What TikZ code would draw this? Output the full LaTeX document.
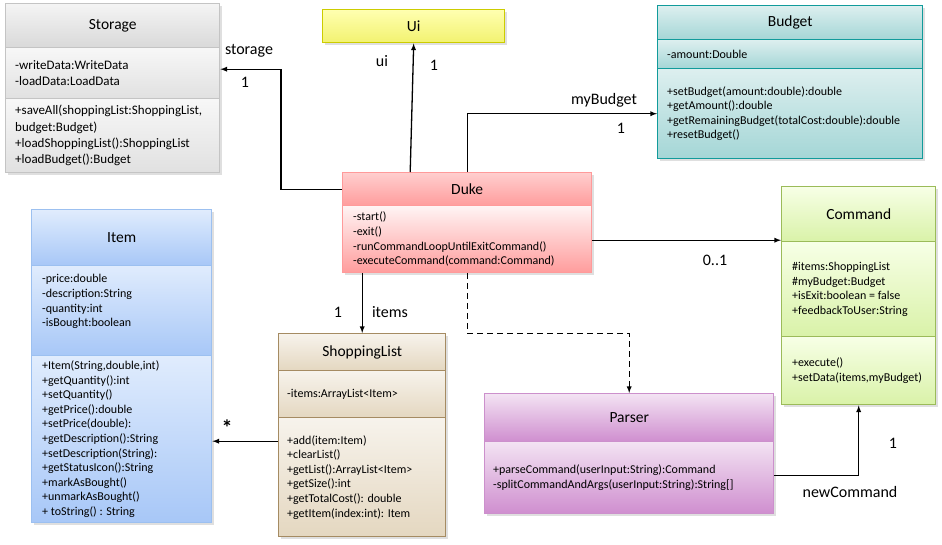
\documentclass[tikz,border=0pt]{standalone}
\usepackage{fontspec}
\setmainfont{Carlito}
\usetikzlibrary{shadows}

\definecolor{stoTop}{HTML}{F4F4F4}
\definecolor{stoBot}{HTML}{D9D9D9}
\definecolor{stoLine}{HTML}{C4C4C4}
\definecolor{uiTop}{HTML}{FFFFB0}
\definecolor{uiBot}{HTML}{F2F270}
\definecolor{uiLine}{HTML}{CCCC00}
\definecolor{budTop}{HTML}{DDEFEF}
\definecolor{budBot}{HTML}{A4D6D6}
\definecolor{budLine}{HTML}{119B9B}
\definecolor{dukTop}{HTML}{FFE4E4}
\definecolor{dukBot}{HTML}{FF9C9C}
\definecolor{dukLine}{HTML}{FF9A9A}
\definecolor{itmTop}{HTML}{E0ECFD}
\definecolor{itmBot}{HTML}{A7C7F7}
\definecolor{itmLine}{HTML}{9CC0F0}
\definecolor{shpTop}{HTML}{F7F3EC}
\definecolor{shpBot}{HTML}{E4D7C0}
\definecolor{shpLine}{HTML}{A58B62}
\definecolor{parTop}{HTML}{F3E3F3}
\definecolor{parBot}{HTML}{CF8ECF}
\definecolor{parLine}{HTML}{CC90CC}
\definecolor{cmdTop}{HTML}{F7FFE6}
\definecolor{cmdBot}{HTML}{D9F2A8}
\definecolor{cmdLine}{HTML}{9BBB59}

\tikzset{
  comp/.style n args={4}{minimum width=#1pt, minimum height=#2pt, top color=#3, bottom color=#4,
    anchor=north west, inner sep=0pt, line width=1.4pt,
    drop shadow={opacity=.25, shadow xshift=2pt, shadow yshift=-2pt}},
  ttl/.style={font=\fontsize{15.5}{18}\selectfont},
  txt/.style={inner sep=0pt, align=left, anchor=west, font=\fontsize{12}{14.6}\selectfont},
  lbl/.style={inner sep=0pt, font=\fontsize{16}{19}\selectfont},
  assoc/.style={->, line width=1.3pt}
}

\begin{document}
\begin{tikzpicture}[x=1pt, y=-1pt, >=latex]
\useasboundingbox (0,0) rectangle (942,544);

\node[comp={214}{44}{stoTop}{stoBot}, draw=stoLine, ttl] (storageT) at (5,3) {Storage};
\node[comp={214}{51}{stoTop!70!white}{stoBot!80!white}, draw=stoLine] (storageA) at (5,47) {};
\node[comp={214}{74}{stoTop!70!white}{stoBot!80!white}, draw=stoLine] (storageM) at (5,98) {};
\node[txt, font=\fontsize{13}{16.3}\selectfont] at ([xshift=10pt]storageA.west) {-writeData:WriteData\\-loadData:LoadData};
\node[txt, font=\fontsize{13}{16.3}\selectfont] at ([xshift=10pt]storageM.west) {+saveAll(shoppingList:ShoppingList,\\budget:Budget)\\+loadShoppingList():ShoppingList\\+loadBudget():Budget};

\node[comp={182}{33}{uiTop}{uiBot}, draw=uiLine, ttl] (ui) at (322,9) {Ui};

\node[comp={265}{34}{budTop}{budBot}, draw=budLine, ttl] (budgetT) at (657,5) {Budget};
\node[comp={265}{29}{budTop}{budBot}, draw=budLine] (budgetA) at (657,39) {};
\node[comp={265}{90}{budTop}{budBot}, draw=budLine] (budgetM) at (657,68) {};
\node[txt] at ([xshift=10pt]budgetA.west) {-amount:Double};
\node[txt] at ([xshift=10pt]budgetM.west) {+setBudget(amount:double):double\\+getAmount():double\\+getRemainingBudget(totalCost:double):double\\+resetBudget()};

\node[comp={249}{33}{dukTop!70!dukBot}{dukBot}, draw=dukLine, ttl] (dukeT) at (342,172) {Duke};
\node[comp={249}{67}{dukTop!40!white}{dukBot}, draw=dukLine] (dukeM) at (342,205) {};
\node[txt] at ([xshift=11pt]dukeM.west) {-start()\\-exit()\\-runCommandLoopUntilExitCommand()\\-executeCommand(command:Command)};

\node[comp={180}{56}{itmTop}{itmBot}, draw=itmLine, ttl] (itemT) at (31,209) {Item};
\node[comp={180}{90}{itmTop}{itmBot}, draw=itmLine] (itemA) at (31,265) {};
\node[comp={180}{167}{itmTop}{itmBot}, draw=itmLine] (itemM) at (31,355) {};
\node[txt] at ([xshift=11pt, yshift=9pt]itemA.west) {-price:double\\-description:String\\-quantity:int\\-isBought:boolean};
\node[txt] at ([xshift=11pt]itemM.west) {+Item(String,double,int)\\+getQuantity():int\\+setQuantity()\\+getPrice():double\\+setPrice(double):\\+getDescription():String\\+setDescription(String):\\+getStatusIcon():String\\+markAsBought()\\+unmarkAsBought()\\+ toString() : String};

\node[comp={167}{37}{shpTop}{shpBot}, draw=shpLine, ttl] (shopT) at (278,333) {ShoppingList};
\node[comp={167}{47}{shpTop}{shpBot}, draw=shpLine] (shopA) at (278,370) {};
\node[comp={167}{119}{shpTop}{shpBot}, draw=shpLine] (shopM) at (278,417) {};
\node[txt] at ([xshift=9pt]shopA.west) {-items:ArrayList<Item>};
\node[txt] at ([xshift=9pt]shopM.west) {+add(item:Item)\\+clearList()\\+getList():ArrayList<Item>\\+getSize():int\\+getTotalCost(): double\\+getItem(index:int): Item};

\node[comp={289}{48}{parTop}{parBot}, draw=parLine, ttl] (parserT) at (484,393) {Parser};
\node[comp={289}{72}{parTop}{parBot}, draw=parLine] (parserM) at (484,441) {};
\node[txt] at ([xshift=9pt]parserM.west) {+parseCommand(userInput:String):Command\\-splitCommandAndArgs(userInput:String):String[]};

\node[comp={154}{55}{cmdTop}{cmdBot}, draw=cmdLine, ttl] (commandT) at (781,186) {Command};
\node[comp={154}{95}{cmdTop}{cmdBot}, draw=cmdLine] (commandA) at (781,241) {};
\node[comp={154}{68}{cmdTop}{cmdBot}, draw=cmdLine] (commandM) at (781,336) {};
\node[txt] at ([xshift=11pt]commandA.west) {\#items:ShoppingList\\\#myBudget:Budget\\+isExit:boolean = false\\+feedbackToUser:String};
\node[txt] at ([xshift=11pt]commandM.west) {+execute()\\+setData(items,myBudget)};

\draw[assoc] (dukeT.west) -- ++(-61,0) |- ([yshift=4pt]storageA.east);
\draw[assoc] ([xshift=-57pt]dukeT.north) -- (ui.south);
\draw[assoc] (dukeT.north) |- (budgetM.west);
\draw[assoc] ([yshift=-1pt]dukeM.east) -- ([yshift=-1pt]dukeM.east -| commandT.west);
\draw[assoc] (dukeM.south -| shopT.north) -- (shopT.north);
\draw[->, line width=1.3pt, dashed, dash pattern=on 6pt off 4pt] (dukeM.south) -- ++(0,60) -| (parserT.north);
\coordinate (slItem) at ([yshift=36pt]shopM.west);
\draw[assoc] (slItem) -- (slItem -| itemM.east);
\draw[assoc] ([yshift=2pt]parserM.east) -| (commandM.south);

\node[lbl] (lStorage) at (249,51) {storage};
\node[lbl] (lStorageN) at (245,82) {1};
\node[lbl] (lUi) at (382,61) {ui};
\node[lbl] (lUiN) at (434,65) {1};
\node[lbl] (lBudget) at (604,100) {myBudget};
\node[lbl] (lBudgetN) at (621,128) {1};
\node[lbl] (lCommandN) at (715,260) {0..1};
\node[lbl] (lItemsN) at (338,312) {1};
\node[lbl] (lItems) at (390,312) {items};
\node[lbl, font=\bfseries\fontsize{22}{24}\selectfont] (lStar) at (227,428) {*};
\node[lbl] (lNewN) at (893,443) {1};
\node[lbl] (lNew) at (850,492) {newCommand};
\end{tikzpicture}
\end{document}
